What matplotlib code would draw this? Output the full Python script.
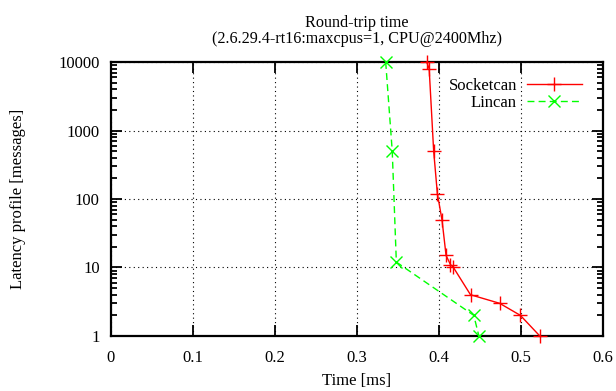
import numpy as np
import matplotlib
matplotlib.use('Agg')
import matplotlib.pyplot as plt
from matplotlib.ticker import LogLocator, NullFormatter, FixedLocator

plt.rcParams['font.family'] = ['Liberation Serif', 'DejaVu Serif']
plt.rcParams['font.size'] = 12

# latency profile (round-trip time [ms] vs. number of messages)
socket_t = [0.385, 0.388, 0.3935, 0.398, 0.4037, 0.4086, 0.414, 0.4176, 0.4384, 0.4739, 0.4992, 0.5229]
socket_n = [10000, 8000, 500, 120, 49, 15, 11, 10, 4, 3, 2, 1]

lincan_t = [0.335, 0.343, 0.348, 0.4424, 0.4486]
lincan_n = [10000, 500, 12, 2, 1]

xticks = [0, 0.1, 0.2, 0.3, 0.4, 0.5, 0.6]
xticklabels = ['0', '0.1', '0.2', '0.3', '0.4', '0.5', '0.6']
yticks = [1, 10, 100, 1000, 10000]
yticklabels = ['1', '10', '100', '1000', '10000']

fig = plt.figure(figsize=(6.16, 3.91), dpi=100)
ax = fig.add_axes([0.180, 0.1407, 0.799, 0.7007])

ax.plot(socket_t, socket_n, color='#ff0000', lw=1.0, marker='+', ms=10, mew=1.0,
        label='Socketcan', clip_on=False, zorder=3)
ax.plot(lincan_t, lincan_n, color='#00ff00', lw=1.0, ls=(0, (5, 3)), marker='x', ms=9,
        mew=1.0, label='Lincan', clip_on=False, zorder=3)

ax.set_yscale('log')
ax.set_xlim(0, 0.6)
ax.set_ylim(1, 10000)
ax.xaxis.set_major_locator(FixedLocator(xticks))
ax.set_xticklabels(xticklabels)
ax.yaxis.set_major_locator(FixedLocator(yticks))
ax.set_yticklabels(yticklabels)
ax.yaxis.set_minor_locator(LogLocator(base=10, subs=np.arange(2, 10)))
ax.yaxis.set_minor_formatter(NullFormatter())

ax.tick_params(which='both', direction='in', top=True, right=True, width=1.3)
ax.tick_params(axis='y', pad=8)
ax.tick_params(axis='x', pad=10)
ax.tick_params(which='major', length=8)
ax.tick_params(which='minor', length=4)
for s in ax.spines.values():
    s.set_linewidth(1.6)

ax.grid(True, which='major', color='black', ls=(0, (1, 3)), lw=0.8)

ax.set_xlabel('Time [ms]', labelpad=5)
ax.set_ylabel('Latency profile [messages]', labelpad=23)
ax.set_title('Round-trip time\n(2.6.29.4-rt16:maxcpus=1, CPU@2400Mhz)',
             fontsize=11.6, linespacing=0.95, pad=14)

ax.legend(loc='upper right', bbox_to_anchor=(0.957, 0.941), frameon=False,
          markerfirst=False, borderpad=0, borderaxespad=0, handlelength=3.3,
          handletextpad=0.6, labelspacing=0.05)

fig.savefig('out.png', dpi=100)
